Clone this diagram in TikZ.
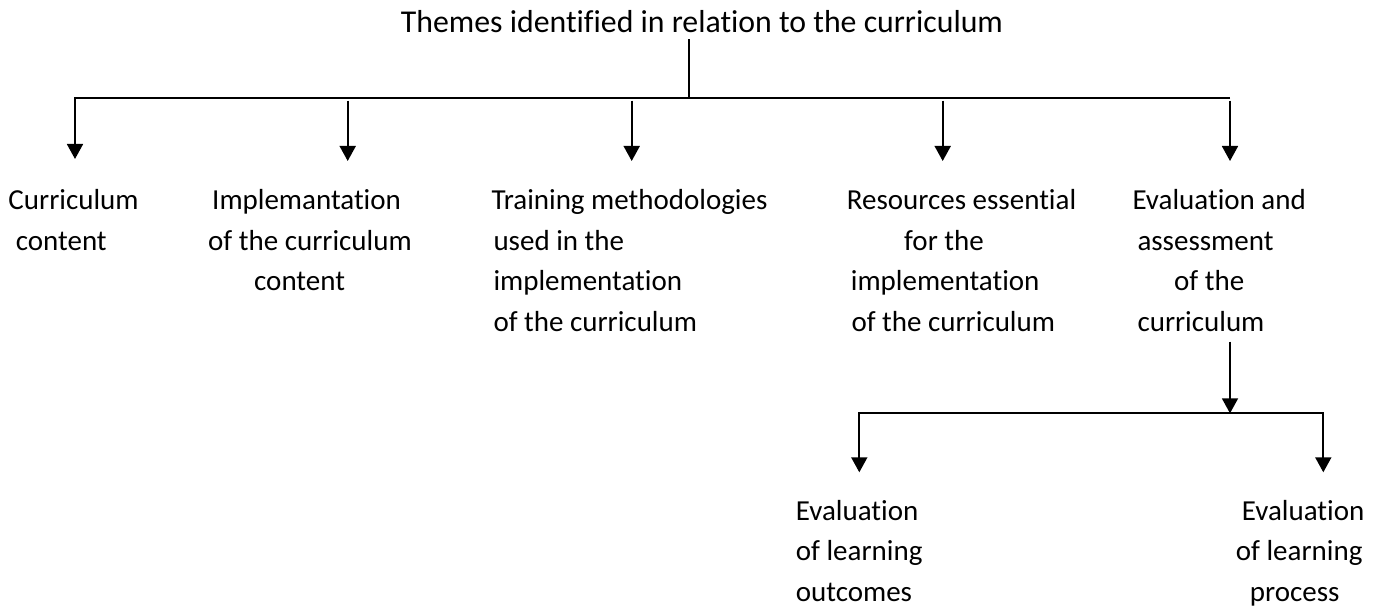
\documentclass[tikz,border=0pt]{standalone}
\usepackage{fontspec}
\setmainfont{Carlito}[Ligatures={NoCommon}]
\usetikzlibrary{arrows.meta}
\newcommand\mylines[1]{\begin{tabular}[t]{@{}l@{}}#1\end{tabular}}
\begin{document}
\begin{tikzpicture}[x=1pt,y=-1pt,
  lbl/.style={anchor=base west,inner sep=0pt,font=\fontsize{29}{40.7}\selectfont},
  ttl/.style={anchor=base west,inner sep=0pt,font=\fontsize{31.8}{38}\selectfont},
  conn/.style={line width=1.8pt},
  arr/.style={conn,-{Triangle[width=16pt,length=15pt]}}]
\useasboundingbox (0,0) rectangle (1385,607);
% texts
\node[ttl] (title) at (400.7,32.3) {Themes identified in relation to the curriculum};
\node[lbl] (b1) at (8.3,209.3) {\mylines{Curriculum\\\hspace*{7.4pt}content}};
\node[lbl] (b2) at (208,209.3) {\mylines{\hspace*{4pt}Implemantation\\of the curriculum\\\hspace*{46pt}content}};
\node[lbl] (b3) at (491.3,209.3) {\mylines{Training methodologies\\\hspace*{2pt}used in the\\\hspace*{2pt}implementation\\\hspace*{2pt}of the curriculum}};
\node[lbl] (b4) at (846.7,209.3) {\mylines{Resources essential\\\hspace*{57.3pt}for the\\\hspace*{4pt}implementation\\\hspace*{4.6pt}of the curriculum}};
\node[lbl] (b5) at (1132.3,209.3) {\mylines{Evaluation and\\\hspace*{5pt}assessment\\\hspace*{41.7pt}of the\\\hspace*{5pt}curriculum}};
\node[lbl] (b6) at (795.7,520) {\mylines{Evaluation\\of learning\\outcomes}};
\node[lbl] (b7) at (1235.7,520) {\mylines{\hspace*{6pt}Evaluation\\of learning\\\hspace*{14pt}process}};
% connector points
\coordinate (hub) at (689.3,97.7);
\coordinate (hl) at (75,97.7);
\coordinate (hr) at (1230,97.7);
\coordinate (s2) at (347.7,100.7);
\coordinate (s3) at (631.7,100.7);
\coordinate (s4) at (942.7,100.7);
\coordinate (s5) at (1230,100.7);
\coordinate (t1) at (75,159);
\coordinate (t2) at (347.7,161);
\coordinate (t3) at (631.7,161);
\coordinate (t4) at (942.7,161);
\coordinate (t5) at (1230,161);
\coordinate (e0) at (1230,341.7);
\coordinate (sub) at (1230,413.3);
\coordinate (ll) at (859.3,413.3);
\coordinate (lr) at (1323.3,413.3);
\coordinate (u1) at (859.3,472.3);
\coordinate (u2) at (1323.3,472.3);
% connectors
\draw[conn] ([yshift=-7pt]title.base -| hub) -- (hub);
\draw[arr] (hr) -- (hl) -- (t1);
\draw[arr] (s2) -- (t2);
\draw[arr] (s3) -- (t3);
\draw[arr] (s4) -- (t4);
\draw[arr] (s5) -- (t5);
\draw[arr] (e0) -- (sub);
\draw[arr] (lr) -- (ll) -- (u1);
\draw[arr] (ll) -- (lr) -- (u2);
\end{tikzpicture}
\end{document}
